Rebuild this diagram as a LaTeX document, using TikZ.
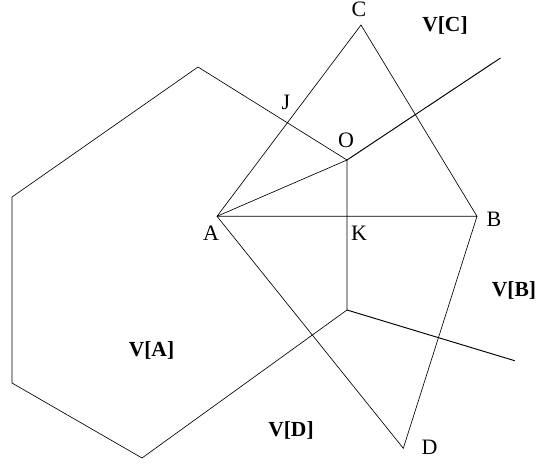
\documentclass[tikz,border=0pt]{standalone}
\usepackage{fontspec}
\setmainfont{Liberation Serif}
\tikzset{lbl/.style={inner sep=0pt,anchor=base,font=\fontsize{22}{24}\selectfont},blbl/.style={inner sep=0pt,anchor=base,font=\fontsize{21.5}{24}\selectfont\bfseries},edge/.style={line width=0.65pt,black},ray/.style={line width=0.95pt,black}}
\begin{document}
\begin{tikzpicture}[x=1pt,y=-1pt]
\useasboundingbox (0,0) rectangle (536,466);
\coordinate (A) at (217,216.3);
\coordinate (B) at (477,216.3);
\coordinate (C) at (361,25);
\coordinate (D) at (403.3,448.3);
\coordinate (O) at (347,160);
\coordinate (P) at (347,310);
\coordinate (Q1) at (500.5,58);
\coordinate (Q2) at (514.7,360.7);
\coordinate (H1) at (198,67);
\coordinate (H2) at (12,197);
\coordinate (H3) at (12,383);
\coordinate (H4) at (142,458);
\draw[edge] (A)--(B)--(C)--(A)--(D)--(B);
\draw[edge] (A)--(O)--(P);
\draw[edge] (O)--(H1)--(H2)--(H3)--(H4)--(P);
\draw[ray] (P)--(Q2);
\draw[ray] (O)--(Q1);
\node[lbl] (lc) at (359,16) {C};
\node[lbl] (lj) at (286,109) {J};
\node[lbl] (lo) at (346,147) {O};
\node[lbl] (la) at (211,240) {A};
\node[lbl] (lk) at (359,240) {K};
\node[lbl] (lb) at (494,226) {B};
\node[lbl] (ld) at (429.5,454) {D};
\node[blbl] (vc) at (445,31) {V[C]};
\node[blbl] (vb) at (514,296) {V[B]};
\node[blbl] (va) at (151.5,356.5) {V[A]};
\node[blbl] (vd) at (291,436.5) {V[D]};
\end{tikzpicture}
\end{document}
